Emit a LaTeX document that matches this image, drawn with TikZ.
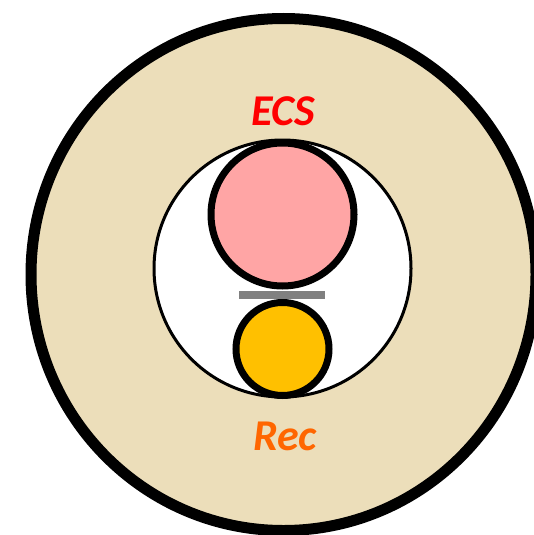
\documentclass[tikz,border=0pt]{standalone}
\usepackage{fontspec}
\usepackage{tikz}
\usetikzlibrary{positioning,shapes.geometric}
\newfontfamily\labelfont{Carlito}
\definecolor{sand}{RGB}{236,222,186}
\definecolor{ecspink}{RGB}{255,165,165}
\definecolor{recgold}{RGB}{255,192,0}
\definecolor{recorange}{RGB}{255,102,0}
\tikzset{
  disc/.style={circle, draw=black, inner sep=0pt},
  tag/.style={font=\labelfont\bfseries\itshape\fontsize{44}{44}\selectfont, inner sep=0pt},
}

\begin{document}
\begin{tikzpicture}[x=1pt, y=-1pt]
\useasboundingbox (0,0) rectangle (533,535);

% cell and pocket
\node[ellipse, draw=black, inner sep=0pt, line width=11pt, fill=sand,
  minimum width=505pt, minimum height=512pt] (cell) at (283.5,274.5) {};
\node[disc, line width=3pt, fill=white, minimum size=257pt] (pocket) at (282.5,268.5) {};

% ECS and receptor
\node[disc, line width=7pt, fill=ecspink, minimum size=143pt] (ecs) at (282.5,214.5) {};
\node[disc, line width=7pt, fill=recgold, minimum size=93pt] (rec) at (282.5,349) {};
\node[fill=gray, inner sep=0pt, minimum width=86pt, minimum height=8pt] (gap) at (282,295) {};

\node[tag, text=red] (ecslabel) at (283,111) {ECS};
\node[tag, text=recorange] (reclabel) at (285,436) {Rec};

\end{tikzpicture}
\end{document}
